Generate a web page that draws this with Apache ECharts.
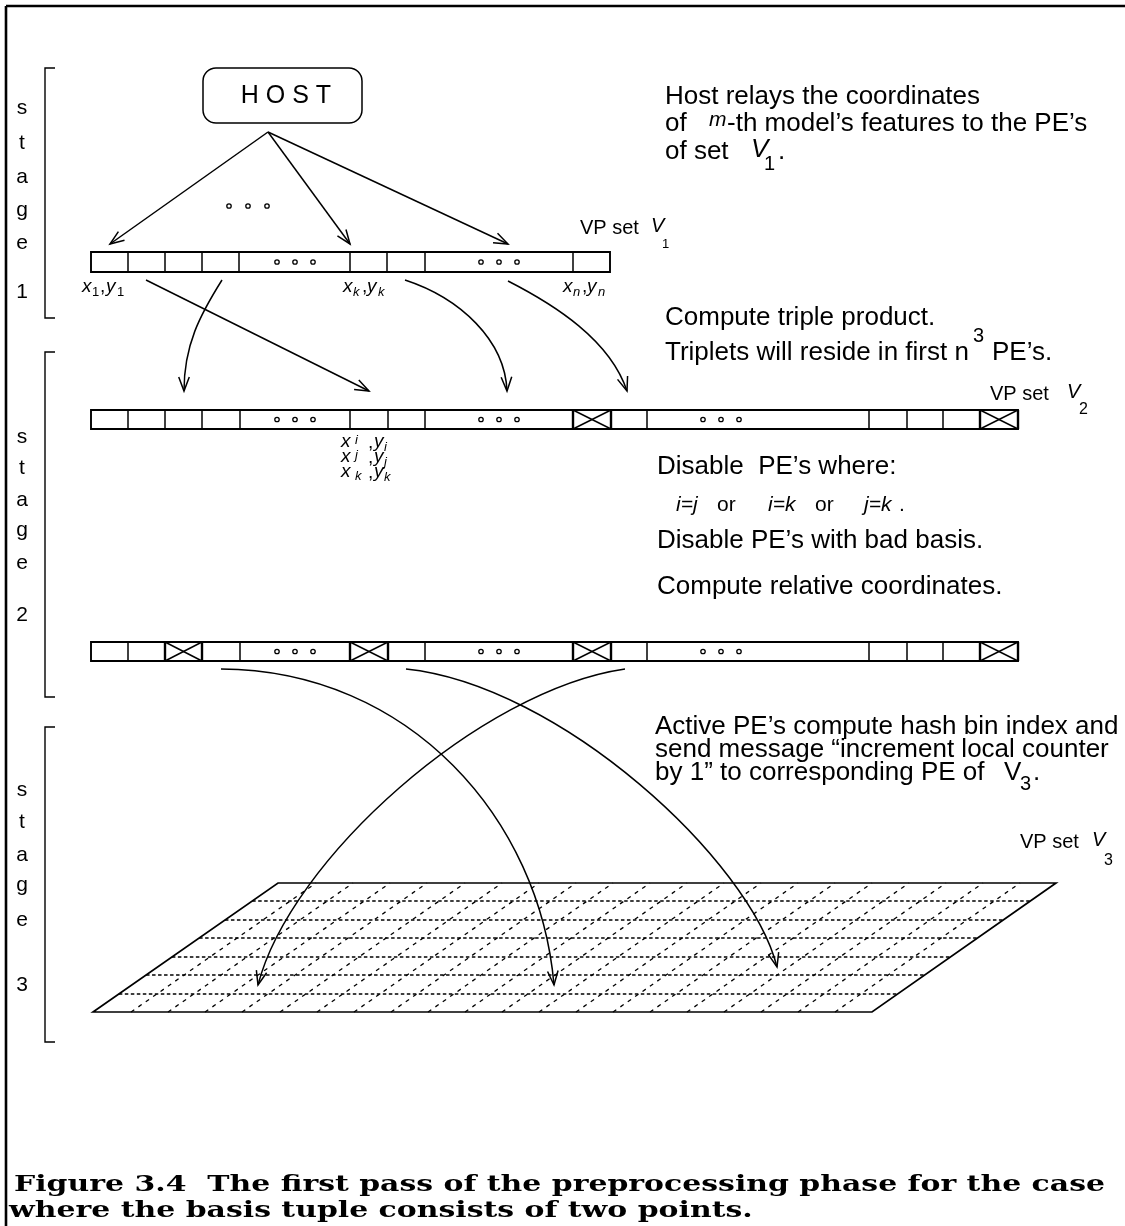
<!DOCTYPE html>
<html>
<head>
<meta charset="utf-8">
<script src="https://cdn.jsdelivr.net/npm/echarts@6/dist/echarts.min.js"></script>
<style>
html, body { margin: 0; padding: 0; background: #fff; }
#chartDom { width: 1125px; height: 1226px; }
</style>
</head>
<body>
<div id="chartDom"></div>
<script>
// page units: x to the right, y downwards (yAxis is inverted)
const pageW = 1125, pageH = 1226;

// outer frame (top and left rule)
const frameCorner = [6, 6];

// stage brackets
const stageNames = ['1', '2', '3'];
const stageTop = [68, 352, 727];
const stageBottom = [318, 697, 1042];
const stageLetters = ['s', 't', 'a', 'g', 'e'];
const stageLetterY1 = [108, 143, 177, 210, 243, 292];
const stageLetterY2 = [437, 468, 500, 530, 563, 615];
const stageLetterY3 = [790, 822, 855, 885, 920, 985];

// host box and its fan of arrows
const hostBox = [203, 68, 362, 123];
const hostFrom = [268, 132];
const hostTo = [[110, 244], [350, 244], [508, 244]];
const hostDots = [[229, 206], [248, 206], [267, 206]];

// PE rows: top / bottom and cell edges
const peRowTop = [252, 410, 642];
const peRowBottom = [272, 429, 661];
const peEdges1 = [91, 128, 165, 202, 239, 350, 387, 425, 573, 610];
const peEdges2 = [91, 128, 165, 202, 240, 350, 388, 425, 573, 611, 647, 869, 907, 943, 980, 1018];
const peEdges3 = [91, 128, 165, 202, 240, 350, 388, 425, 573, 611, 647, 869, 907, 943, 980, 1018];
const peCrossed1 = [];
const peCrossed2 = [573, 980];
const peCrossed3 = [165, 350, 573, 980];
const peDots1 = [295, 499];
const peDots2 = [295, 499, 721];
const peDots3 = [295, 499, 721];

// arrows between stages, cubic curves [start, c1, c2, end]
const feedCurves = [
  [[222, 280], [200, 315], [184, 345], [184, 391]],
  [[146, 280], [220, 317], [295, 354], [369, 391]],
  [[405, 280], [460, 298], [505, 340], [507, 391]],
  [[508, 281], [555, 305], [610, 340], [627, 391]]
];
const hashCurves = [
  [[221, 669], [410, 670], [540, 820], [554, 985]],
  [[406, 669], [560, 685], [750, 860], [777, 967]],
  [[625, 669], [480, 690], [290, 860], [258, 985]]
];

// hash plane (parallelogram) and its dashed cells
const planeCorners = [[93, 1012], [278, 883], [1056, 883], [872, 1012]];
const planeRowY = [901, 920, 938, 957, 975, 994];
const planeColX = [131, 168, 205, 242, 280, 317, 354, 391, 428, 465, 502, 539, 576, 613, 650, 687, 724, 761, 798, 835];

// texts: [x, y, text, style, align]
const noteTexts = [
  [286, 96, 'H O S T', 'host', 'center'],
  [665, 97, 'Host relays the coordinates', 'body'],
  [665, 124, 'of', 'body'],
  [709, 120, 'm', 'mathIt'],
  [727, 124, '-th model\u2019s features to the PE\u2019s', 'body'],
  [665, 152, 'of set', 'body'],
  [751, 150, 'V', 'bodyIt'],
  [764, 164, '1', 'bodySub'],
  [778, 152, '.', 'body'],
  [580, 228, 'VP set', 'small'],
  [651, 226, 'V', 'smallIt'],
  [662, 244, '1', 'smallSub'],
  [82, 287, 'x', 'xyIt'], [92, 292, '1', 'xySub'], [100, 287, ',', 'xy'], [106, 287, 'y', 'xyIt'], [117, 292, '1', 'xySub'],
  [343, 287, 'x', 'xyIt'], [353, 292, 'k', 'xySubIt'], [362, 287, ',', 'xy'], [367, 287, 'y', 'xyIt'], [378, 292, 'k', 'xySubIt'],
  [563, 287, 'x', 'xyIt'], [573, 292, 'n', 'xySubIt'], [582, 287, ',', 'xy'], [587, 287, 'y', 'xyIt'], [598, 292, 'n', 'xySubIt'],
  [665, 318, 'Compute triple product.', 'body'],
  [665, 353, 'Triplets will reside in first n', 'body'],
  [973, 336, '3', 'bodySub'],
  [992, 353, 'PE\u2019s.', 'body'],
  [990, 394, 'VP set', 'small'],
  [1067, 392, 'V', 'smallIt'],
  [1079, 410, '2', 'smallSub2'],
  [341, 442, 'x', 'xyIt'], [355, 440, 'i', 'xySubIt'], [368, 443, ',', 'xy'], [374, 442, 'y', 'xyIt'], [384, 447, 'i', 'xySubIt'],
  [341, 457, 'x', 'xyIt'], [355, 455, 'j', 'xySubIt'], [368, 458, ',', 'xy'], [374, 457, 'y', 'xyIt'], [384, 462, 'j', 'xySubIt'],
  [341, 472, 'x', 'xyIt'], [355, 476, 'k', 'xySubIt'], [368, 473, ',', 'xy'], [374, 472, 'y', 'xyIt'], [384, 477, 'k', 'xySubIt'],
  [657, 467, 'Disable  PE\u2019s where:', 'body'],
  [676, 505, 'i=j', 'mathIt'],
  [717, 505, 'or', 'math'],
  [768, 505, 'i=k', 'mathIt'],
  [815, 505, 'or', 'math'],
  [864, 505, 'j=k', 'mathIt'],
  [899, 505, '.', 'math'],
  [657, 541, 'Disable PE\u2019s with bad basis.', 'body'],
  [657, 587, 'Compute relative coordinates.', 'body'],
  [655, 727, 'Active PE\u2019s compute hash bin index and', 'body'],
  [655, 750, 'send message \u201cincrement local counter', 'body'],
  [655, 773, 'by 1\u201d to corresponding PE of', 'body'],
  [1004, 773, 'V', 'body'],
  [1020, 784, '3', 'bodySub'],
  [1033, 773, '.', 'body'],
  [1020, 842, 'VP set', 'small'],
  [1092, 840, 'V', 'smallIt'],
  [1104, 861, '3', 'smallSub2'],
  [14, 1185, 'Figure 3.4  The first pass of the preprocessing phase for the case', 'caption'],
  [9, 1211, 'where the basis tuple consists of two points.', 'caption']
];
const captionWidth = 1091;

const SANS = '"Liberation Sans", Arial, Helvetica, sans-serif';
const SERIF = '"DejaVu Serif", serif';
const fontOf = {
  host: 'normal 25px ' + SANS,
  body: 'normal 26px ' + SANS,
  bodyIt: 'italic 26px ' + SANS,
  bodySub: 'normal 20px ' + SANS,
  small: 'normal 20px ' + SANS,
  smallIt: 'italic 20px ' + SANS,
  smallSub: 'normal 13px ' + SANS,
  smallSub2: 'normal 16px ' + SANS,
  math: 'normal 21px ' + SANS,
  mathIt: 'italic 21px ' + SANS,
  xy: 'normal 19px ' + SANS,
  xyIt: 'italic 19px ' + SANS,
  xySub: 'normal 13px ' + SANS,
  xySubIt: 'italic 13px ' + SANS,
  stage: 'normal 21px ' + SANS,
  caption: 'bold 23px ' + SERIF
};

var measureCtx = document.createElement('canvas').getContext('2d');
measureCtx.font = fontOf.caption;
var captionScale = captionWidth / measureCtx.measureText(noteTexts[noteTexts.length - 2][2]).width;

var myChart = echarts.init(document.getElementById('chartDom'));

function seg(a, b, w, dash) {
  return { type: 'line', shape: { x1: a[0], y1: a[1], x2: b[0], y2: b[1] },
    style: { stroke: '#000', lineWidth: w, lineDash: dash || null } };
}

function arrowHead(tip, from) {
  var dx = tip[0] - from[0], dy = tip[1] - from[1];
  var d = Math.hypot(dx, dy), ux = dx / d, uy = dy / d;
  var len = 15, ang = 0.36, pts = [];
  [-1, 1].forEach(function (s) {
    var c = Math.cos(ang * s), sn = Math.sin(ang * s);
    var rx = ux * c - uy * sn, ry = ux * sn + uy * c;
    pts.push([tip[0] - rx * len, tip[1] - ry * len]);
  });
  return { type: 'polyline', shape: { points: [pts[0], tip, pts[1]] },
    style: { stroke: '#000', lineWidth: 1.5, fill: null } };
}

function renderFrame(params, api) {
  var c = api.coord(frameCorner);
  return { type: 'group', children: [
    seg(c, api.coord([pageW, frameCorner[1]]), 2.6),
    seg(c, api.coord([frameCorner[0], pageH]), 2.6)
  ] };
}

function renderBracket(params, api) {
  var i = params.dataIndex;
  var a = api.coord([55, stageTop[i]]), b = api.coord([45, stageTop[i]]);
  var c = api.coord([45, stageBottom[i]]), d = api.coord([55, stageBottom[i]]);
  return { type: 'polyline', shape: { points: [a, b, c, d] },
    style: { stroke: '#000', lineWidth: 1.4, fill: null } };
}

function renderHost(params, api) {
  var p0 = api.coord([hostBox[0], hostBox[1]]), p1 = api.coord([hostBox[2], hostBox[3]]);
  var from = api.coord(hostFrom);
  var kids = [{ type: 'rect', shape: { x: p0[0], y: p0[1], width: p1[0] - p0[0], height: p1[1] - p0[1], r: 13 },
    style: { stroke: '#000', lineWidth: 1.5, fill: null } }];
  hostTo.forEach(function (t) {
    var tip = api.coord(t);
    kids.push(seg(from, tip, 1.5));
    kids.push(arrowHead(tip, from));
  });
  hostDots.forEach(function (d) {
    var p = api.coord(d);
    kids.push({ type: 'circle', shape: { cx: p[0], cy: p[1], r: 2.2 }, style: { stroke: '#000', lineWidth: 1.3, fill: '#fff' } });
  });
  return { type: 'group', children: kids };
}

var peEdges = [peEdges1, peEdges2, peEdges3];
var peCrossed = [peCrossed1, peCrossed2, peCrossed3];
var peDots = [peDots1, peDots2, peDots3];

function renderRow(params, api) {
  var i = params.dataIndex, edges = peEdges[i];
  var top = peRowTop[i], bot = peRowBottom[i];
  var p0 = api.coord([edges[0], top]), p1 = api.coord([edges[edges.length - 1], bot]);
  var kids = [{ type: 'rect', shape: { x: p0[0], y: p0[1], width: p1[0] - p0[0], height: p1[1] - p0[1] },
    style: { stroke: '#000', lineWidth: 1.9, fill: null } }];
  edges.slice(1, -1).forEach(function (x) {
    kids.push(seg(api.coord([x, top]), api.coord([x, bot]), 1.5));
  });
  peCrossed[i].forEach(function (x) {
    var j = edges.indexOf(x), x2 = edges[j + 1];
    kids.push(seg(api.coord([x, top]), api.coord([x2, bot]), 1.5));
    kids.push(seg(api.coord([x, bot]), api.coord([x2, top]), 1.5));
    kids.push(seg(api.coord([x, top]), api.coord([x, bot]), 2.4));
    kids.push(seg(api.coord([x2, top]), api.coord([x2, bot]), 2.4));
  });
  var ym = (top + bot) / 2;
  peDots[i].forEach(function (cx) {
    [-18, 0, 18].forEach(function (o) {
      var p = api.coord([cx + o, ym]);
      kids.push({ type: 'circle', shape: { cx: p[0], cy: p[1], r: 2.2 }, style: { stroke: '#000', lineWidth: 1.3, fill: '#fff' } });
    });
  });
  return { type: 'group', children: kids };
}

var allCurves = feedCurves.concat(hashCurves);

function renderCurve(params, api) {
  var c = allCurves[params.dataIndex].map(function (p) { return api.coord(p); });
  return { type: 'group', children: [
    { type: 'bezierCurve',
      shape: { x1: c[0][0], y1: c[0][1], cpx1: c[1][0], cpy1: c[1][1], cpx2: c[2][0], cpy2: c[2][1], x2: c[3][0], y2: c[3][1] },
      style: { stroke: '#000', lineWidth: 1.5, fill: null } },
    arrowHead(c[3], c[2])
  ] };
}

function renderPlane(params, api) {
  var pts = planeCorners.map(function (p) { return api.coord(p); });
  var yB = planeCorners[0][1], yT = planeCorners[1][1];
  var shift = planeCorners[1][0] - planeCorners[0][0];
  var xL = planeCorners[0][0], xR = planeCorners[3][0];
  var kids = [];
  planeRowY.forEach(function (y) {
    var off = (yB - y) / (yB - yT) * shift;
    kids.push(seg(api.coord([xL + off, y]), api.coord([xR + off, y]), 1.3, [3.5, 2.5]));
  });
  planeColX.forEach(function (x) {
    kids.push(seg(api.coord([x, yB]), api.coord([x + shift, yT]), 1.3, [4, 5]));
  });
  kids.push({ type: 'polygon', shape: { points: pts }, style: { stroke: '#000', lineWidth: 1.7, fill: null } });
  return { type: 'group', children: kids };
}

var stageLetterY = [stageLetterY1, stageLetterY2, stageLetterY3];
var stageTexts = [];
stageNames.forEach(function (n, i) {
  stageLetters.concat([n]).forEach(function (ch, k) {
    stageTexts.push([22, stageLetterY[i][k], ch, 'stage', 'center']);
  });
});
var allTexts = noteTexts.concat(stageTexts);

function renderText(params, api) {
  var t = allTexts[params.dataIndex];
  var p = api.coord([api.value(0), api.value(1)]);
  return { type: 'text', x: p[0], y: p[1], scaleX: t[3] === 'caption' ? captionScale : 1,
    style: { text: t[2], font: fontOf[t[3]], fill: '#000',
      textAlign: t[4] || 'left', textVerticalAlign: 'middle' } };
}

var option = {
  animation: false,
  backgroundColor: '#fff',
  grid: { left: 0, right: 0, top: 0, bottom: 0 },
  xAxis: { type: 'value', min: 0, max: pageW, show: false },
  yAxis: { type: 'value', min: 0, max: pageH, inverse: true, show: false },
  series: [
    { type: 'custom', clip: false, silent: true, renderItem: renderFrame, data: [[0, 0]] },
    { type: 'custom', clip: false, silent: true, renderItem: renderBracket, data: stageNames.map(function (n, i) { return [45, stageTop[i]]; }) },
    { type: 'custom', clip: false, silent: true, renderItem: renderHost, data: [hostFrom] },
    { type: 'custom', clip: false, silent: true, renderItem: renderPlane, data: [planeCorners[0]] },
    { type: 'custom', clip: false, silent: true, renderItem: renderRow, data: peRowTop.map(function (y, i) { return [peEdges[i][0], y]; }) },
    { type: 'custom', clip: false, silent: true, renderItem: renderCurve, data: allCurves.map(function (c) { return c[0]; }) },
    { type: 'custom', clip: false, silent: true, renderItem: renderText, data: allTexts.map(function (t) { return [t[0], t[1]]; }) }
  ]
};

myChart.setOption(option);
</script>
</body>
</html>
